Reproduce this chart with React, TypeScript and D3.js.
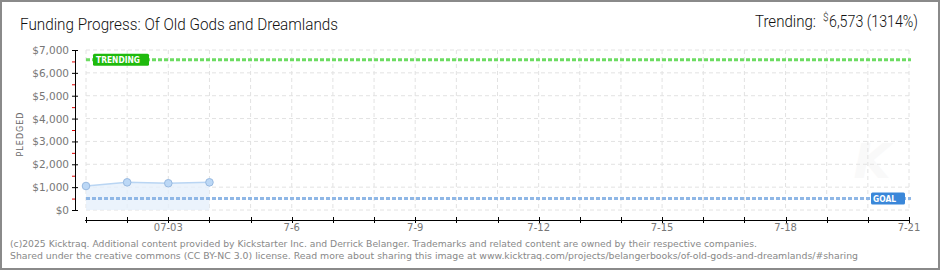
import React from "react";
import * as d3 from "d3";

const pledgeDates = ["2025-07-01", "2025-07-02", "2025-07-03", "2025-07-04"];
const pledgeValues = [1050, 1210, 1170, 1210];
const goalValue = 500;
const trendingValue = 6573;
const yTicks = [0, 1000, 2000, 3000, 4000, 5000, 6000, 7000];
const yTickLabels = ["$0", "$1,000", "$2,000", "$3,000", "$4,000", "$5,000", "$6,000", "$7,000"];
const xLabelDates = ["2025-07-03", "2025-07-06", "2025-07-09", "2025-07-12", "2025-07-15", "2025-07-18", "2025-07-21"];
const xLabels = ["07-03", "7-6", "7-9", "7-12", "7-15", "7-18", "7-21"];
const titleText = "Funding Progress: Of Old Gods and Dreamlands";
const trendingText = "6,573 (1314%)";
const footer1 = "(c)2025 Kicktraq. Additional content provided by Kickstarter Inc. and Derrick Belanger. Trademarks and related content are owned by their respective companies.";
const footer2 = "Shared under the creative commons (CC BY-NC 3.0) license. Read more about sharing this image at www.kicktraq.com/projects/belangerbooks/of-old-gods-and-dreamlands/#sharing";

const parse = d3.timeParse("%Y-%m-%d");

export default function App() {
  const x = d3.scaleTime().domain([parse("2025-07-01")!, parse("2025-07-21")!]).range([86, 909]);
  const y = d3.scaleLinear().domain([0, 7000]).range([210, 50]);
  const days = d3.timeDay.range(parse("2025-07-01")!, d3.timeDay.offset(parse("2025-07-21")!, 1));
  const minor = d3.range(500, 7000, 1000);
  const pts = pledgeDates.map((d, i) => ({ d: parse(d)!, v: pledgeValues[i] }));
  const line = d3.line<any>().x((p) => x(p.d)).y((p) => y(p.v));
  const area = d3.area<any>().x((p) => x(p.d)).y0(y(0)).y1((p) => y(p.v));
  const [x0, x1] = x.range();
  const labelFont = "'DejaVu Sans', Verdana, sans-serif";

  return (
    <svg width={940} height={270} style={{ position: "absolute", left: 0, top: 0, background: "#fff" }}>
      <rect x={1} y={1} width={938} height={268} fill="#fff" stroke="#8a8a8a" strokeWidth={2} />
      <text x={20} y={30} fontFamily="Roboto, sans-serif" fontWeight={300} fontSize={16.5} fill="#111" textLength={318} lengthAdjust="spacingAndGlyphs">{titleText}</text>
      <text x={755} y={27} fontFamily="Roboto, sans-serif" fontWeight={300} fontSize={16.5} fill="#111" textLength={61} lengthAdjust="spacingAndGlyphs">Trending:</text>
      <text x={823} y={21} fontFamily="Roboto, sans-serif" fontWeight={300} fontSize={10} fill="#111">$</text>
      <text x={829} y={27} fontFamily="Roboto, sans-serif" fontWeight={300} fontSize={16.5} fill="#111" textLength={89} lengthAdjust="spacingAndGlyphs">{trendingText}</text>

      {/* watermark */}
      <text x={872} y={178} textAnchor="middle" fontFamily="'DejaVu Sans', sans-serif" fontStyle="italic" fontWeight="bold" fontSize={48} fill="#f9f9f9">K</text>

      {/* grid */}
      {days.map((d, i) => (
        <line key={"vg" + i} x1={x(d)} x2={x(d)} y1={50} y2={210} stroke="#e2e2e2" strokeDasharray="4,3" />
      ))}
      {yTicks.map((t, i) => (
        <line key={"hg" + i} x1={x0} x2={x1} y1={y(t)} y2={y(t)} stroke="#e2e2e2" strokeDasharray="4,3" />
      ))}

      {/* area + line */}
      <path d={area(pts)!} fill="#e6f0fb" fillOpacity={0.8} />
      <path d={line(pts)!} fill="none" stroke="#b9d5f3" strokeWidth={1.5} />

      {/* goal line */}
      <line x1={x0} x2={x1 + 2} y1={y(goalValue)} y2={y(goalValue)} stroke="#8fb7e6" strokeWidth={3} strokeDasharray="4,2" />
      {/* trending line */}
      <line x1={x0} x2={x1 + 2} y1={y(trendingValue)} y2={y(trendingValue)} stroke="#6cdc62" strokeWidth={3} strokeDasharray="4,2" />

      {pts.map((p, i) => (
        <circle key={"pt" + i} cx={x(p.d)} cy={y(p.v)} r={3.8} fill="#bcd8f6" stroke="#98b9e0" strokeWidth={1} />
      ))}

      {/* labels */}
      <rect x={93} y={y(trendingValue) - 6} width={56} height={12} rx={1.5} fill="#1fba0d" />
      <text x={96} y={y(trendingValue) + 3.5} fontFamily={labelFont} fontSize={9} fontWeight="bold" fill="#fff" textLength={44} lengthAdjust="spacingAndGlyphs">TRENDING</text>
      <rect x={871} y={y(goalValue) - 6} width={34} height={12} rx={1.5} fill="#3a87d9" />
      <text x={873} y={y(goalValue) + 3.5} fontFamily={labelFont} fontSize={9} fontWeight="bold" fill="#fff" textLength={23} lengthAdjust="spacingAndGlyphs">GOAL</text>

      {/* y axis */}
      <line x1={75.5} x2={75.5} y1={50} y2={210} stroke="#000" />
      {yTicks.map((t, i) => (
        <g key={"yt" + i}>
          <line x1={72} x2={78} y1={y(t) + 0.5} y2={y(t) + 0.5} stroke="#000" />
          <text x={69} y={y(t) + 4} textAnchor="end" fontFamily={labelFont} fontSize={10.5} fill="#777">{yTickLabels[i]}</text>
        </g>
      ))}
      {minor.map((t, i) => (
        <line key={"ym" + i} x1={72} x2={75} y1={y(t) + 0.5} y2={y(t) + 0.5} stroke="#e00000" />
      ))}
      <text transform="translate(23,134) rotate(-90)" textAnchor="middle" fontFamily={labelFont} fontSize={8} fill="#666" letterSpacing={1}>PLEDGED</text>

      {/* x axis */}
      <line x1={x0 - 1} x2={x1 + 1} y1={220.5} y2={220.5} stroke="#000" />
      {days.map((d, i) => (
        <line key={"xt" + i} x1={Math.round(x(d)) + 0.5} x2={Math.round(x(d)) + 0.5} y1={217} y2={223} stroke="#000" />
      ))}
      {xLabelDates.map((d, i) => (
        <text key={"xl" + i} x={x(parse(d)!)} y={231} textAnchor="middle" fontFamily={labelFont} fontSize={10} fill="#777">{xLabels[i]}</text>
      ))}

      {/* footer */}
      <text x={10} y={247} fontFamily={labelFont} fontSize={9.5} fill="#888" textLength={747} lengthAdjust="spacingAndGlyphs">{footer1}</text>
      <text x={10} y={259} fontFamily={labelFont} fontSize={9.5} fill="#888" textLength={848} lengthAdjust="spacingAndGlyphs">{footer2}</text>
    </svg>
  );
}
